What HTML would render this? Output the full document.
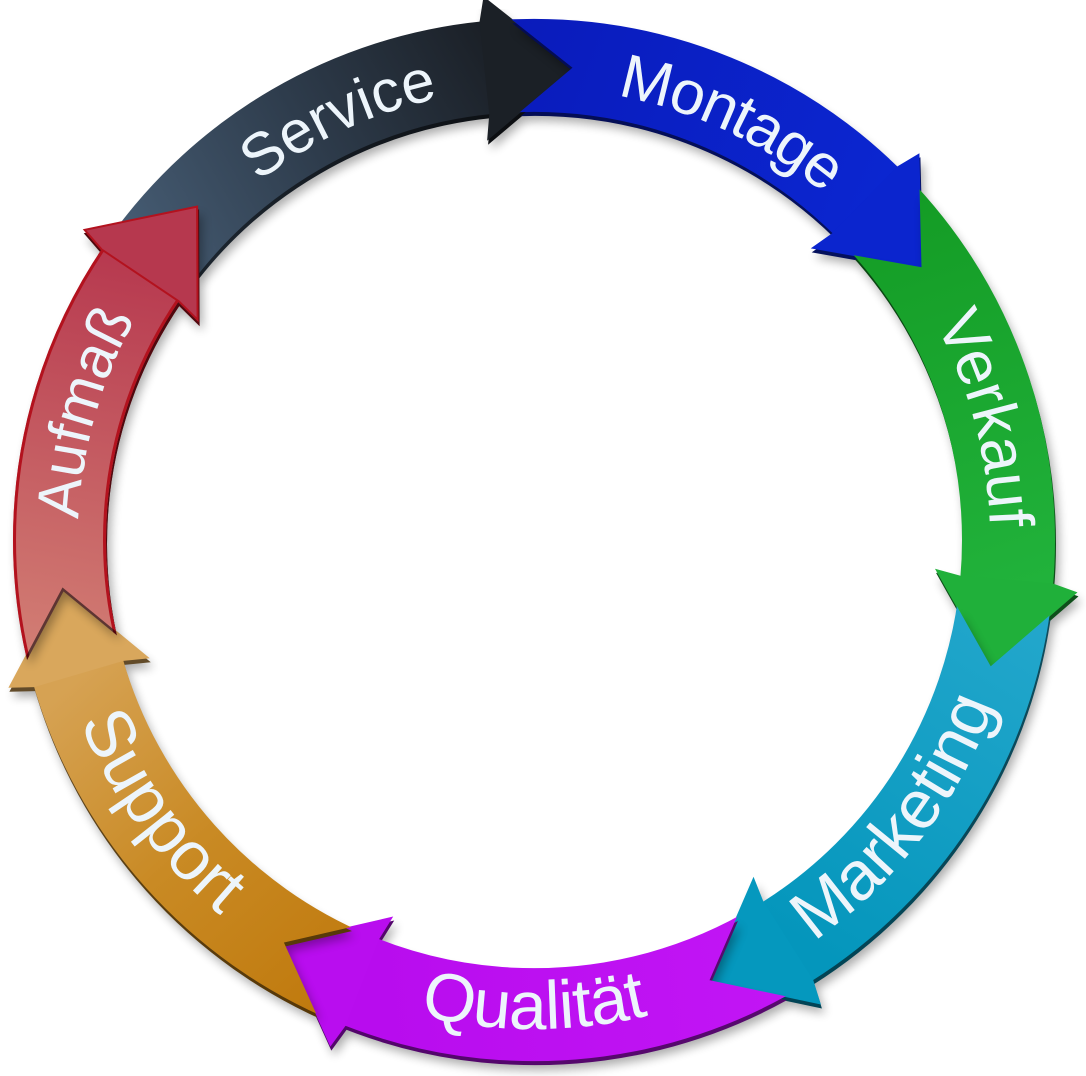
<!DOCTYPE html>
<html>
<head>
<meta charset="utf-8">
<style>
html,body{margin:0;padding:0;background:#ffffff;width:1086px;height:1076px;overflow:hidden;}
#wrap{position:absolute;left:0;top:0;width:1086px;height:1076px;overflow:hidden;}
svg{display:block;position:absolute;left:0;top:0;overflow:hidden;}
text{font-family:"Liberation Sans",Arial,sans-serif;fill:#edf5fb;}
</style>
</head>
<body>
<div id="wrap">
<svg width="1086" height="1076" viewBox="0 0 1086 1076" xmlns="http://www.w3.org/2000/svg">
<defs>
  <!-- arrowheads in absolute coordinates -->
  <path id="hSer" d="M479.54,21.85 L483.57,-3.67 L573.66,67.66 L487.10,140.75 L489.26,114.34 Z"/>
  <path id="hMon" d="M897.22,166.49 L919.41,153.25 L922.28,268.12 L810.72,248.40 L832.39,233.16 Z"/>
  <path id="hVer" d="M1053.17,583.60 L1077.49,592.33 L990.54,667.47 L934.97,568.74 L960.50,575.81 Z"/>
  <path id="hMar" d="M813.17,979.89 L820.91,1004.54 L708.49,980.71 L753.53,876.76 L763.33,901.37 Z"/>
  <path id="hQua" d="M345.59,1025.74 L330.33,1046.59 L282.82,941.97 L393.22,916.54 L379.22,939.03 Z"/>
  <path id="hSup" d="M34.20,687.10 L8.37,687.75 L62.26,586.25 L149.77,658.20 L123.41,660.84 Z"/>
  <path id="hAuf" d="M101.61,249.41 L84.62,229.88 L197.08,206.59 L197.62,319.88 L178.80,301.29 Z"/>

  <path id="cw452" d="M0,452 A452,452 0 1 1 0,-452 A452,452 0 1 1 0,452"/>
  <path id="cw456" d="M0,456 A456,456 0 1 1 0,-456 A456,456 0 1 1 0,456"/>
  <path id="ccw489" d="M0,-489 A489,489 0 1 0 0,489 A489,489 0 1 0 0,-489"/>

  <filter id="f3d" filterUnits="userSpaceOnUse" x="0" y="0" width="1086" height="1076" color-interpolation-filters="sRGB">
    <feColorMatrix in="SourceGraphic" type="matrix" values="0.45 0 0 0 0  0 0.45 0 0 0  0 0 0.45 0 0  0 0 0 1 0" result="dk"/>
    <feOffset in="dk" dx="1" dy="4" result="ext"/>
    <feGaussianBlur in="SourceAlpha" stdDeviation="5" result="b"/>
    <feOffset in="b" dx="4" dy="9" result="bo"/>
    <feComponentTransfer in="bo" result="sh"><feFuncA type="linear" slope="0.33"/></feComponentTransfer>
    <feMerge><feMergeNode in="sh"/><feMergeNode in="ext"/><feMergeNode in="SourceGraphic"/></feMerge>
  </filter>

  <linearGradient id="gSer" gradientUnits="userSpaceOnUse" x1="474" y1="0" x2="300" y2="368" gradientTransform="translate(534 540) rotate(215.4)">
    <stop offset="0" stop-color="#455b72"/><stop offset="0.5" stop-color="#2e3c4c"/><stop offset="1" stop-color="#1b2027"/>
  </linearGradient>
  <linearGradient id="gMon" gradientUnits="userSpaceOnUse" x1="474" y1="0" x2="300" y2="368" gradientTransform="translate(534 540) rotate(-94.5)">
    <stop offset="0" stop-color="#0a1bbb"/><stop offset="1" stop-color="#0b26d0"/>
  </linearGradient>
  <linearGradient id="gVer" gradientUnits="userSpaceOnUse" x1="474" y1="0" x2="300" y2="368" gradientTransform="translate(534 540) rotate(-44.3)">
    <stop offset="0" stop-color="#149c25"/><stop offset="1" stop-color="#21b23b"/>
  </linearGradient>
  <linearGradient id="gMar" gradientUnits="userSpaceOnUse" x1="474" y1="0" x2="300" y2="368" gradientTransform="translate(534 540) rotate(6.3)">
    <stop offset="0" stop-color="#23a7cc"/><stop offset="1" stop-color="#0496bc"/>
  </linearGradient>
  <linearGradient id="gQua" gradientUnits="userSpaceOnUse" x1="474" y1="0" x2="300" y2="368" gradientTransform="translate(534 540) rotate(59.1)">
    <stop offset="0" stop-color="#c215f5"/><stop offset="1" stop-color="#b80cee"/>
  </linearGradient>
  <linearGradient id="gSup" gradientUnits="userSpaceOnUse" x1="474" y1="0" x2="300" y2="368" gradientTransform="translate(534 540) rotate(112.7)">
    <stop offset="0" stop-color="#c07a0e"/><stop offset="0.5" stop-color="#c98a24"/><stop offset="1" stop-color="#d6a253"/>
  </linearGradient>
  <linearGradient id="gAuf" gradientUnits="userSpaceOnUse" x1="474" y1="0" x2="300" y2="368" gradientTransform="translate(534 540) rotate(165.1)">
    <stop offset="0" stop-color="#d27e74"/><stop offset="1" stop-color="#b7394f"/>
  </linearGradient>

  <mask id="mSer" maskUnits="userSpaceOnUse" x="0" y="0" width="1086" height="1076">
    <rect width="1086" height="1076" fill="#fff"/>
    <use href="#hAuf" fill="#000" stroke="#fff" stroke-width="1.5"/>
  </mask>
  <mask id="mMon" maskUnits="userSpaceOnUse" x="0" y="0" width="1086" height="1076">
    <rect width="1086" height="1076" fill="#fff"/>
    <use href="#hSer" fill="#000" stroke="#fff" stroke-width="1.5"/>
  </mask>
  <mask id="mVer" maskUnits="userSpaceOnUse" x="0" y="0" width="1086" height="1076">
    <rect width="1086" height="1076" fill="#fff"/>
    <use href="#hMon" fill="#000" stroke="#fff" stroke-width="1.5"/>
  </mask>
  <mask id="mMar" maskUnits="userSpaceOnUse" x="0" y="0" width="1086" height="1076">
    <rect width="1086" height="1076" fill="#fff"/>
    <use href="#hVer" fill="#000" stroke="#fff" stroke-width="1.5"/>
  </mask>
  <mask id="mQua" maskUnits="userSpaceOnUse" x="0" y="0" width="1086" height="1076">
    <rect width="1086" height="1076" fill="#fff"/>
    <use href="#hMar" fill="#000" stroke="#fff" stroke-width="1.5"/>
  </mask>
  <mask id="mSup" maskUnits="userSpaceOnUse" x="0" y="0" width="1086" height="1076">
    <rect width="1086" height="1076" fill="#fff"/>
    <use href="#hQua" fill="#000" stroke="#fff" stroke-width="1.5"/>
  </mask>
  <mask id="mAuf" maskUnits="userSpaceOnUse" x="0" y="0" width="1086" height="1076">
    <rect width="1086" height="1076" fill="#fff"/>
    <use href="#hSup" fill="#000" stroke="#fff" stroke-width="1.5"/>
  </mask>
</defs>

<!-- Service -->
<g filter="url(#f3d)">
  <g mask="url(#mSer)">
    <path d="M1008.5,540 A474.5,474.5 0 1 1 59.5,540 A474.5,474.5 0 1 1 1008.5,540" pathLength="360" fill="none" stroke="url(#gSer)" stroke-width="93" stroke-dasharray="0 215.4 48.9 1000"/>
  </g>
  <use href="#hSer" fill="#1b2026"/>
</g>

<!-- Montage -->
<g filter="url(#f3d)">
  <g mask="url(#mMon)">
    <path d="M1008.5,540 A474.5,474.5 0 1 1 59.5,540 A474.5,474.5 0 1 1 1008.5,540" pathLength="360" fill="none" stroke="url(#gMon)" stroke-width="93" stroke-dasharray="0 265.5 49 1000"/>
  </g>
  <use href="#hMon" fill="#0b25ce"/>
</g>

<!-- Verkauf -->
<g filter="url(#f3d)">
  <g mask="url(#mVer)">
    <path d="M59.5,540 A474.5,474.5 0 1 1 1008.5,540 A474.5,474.5 0 1 1 59.5,540" pathLength="360" fill="none" stroke="url(#gVer)" stroke-width="93" stroke-dasharray="0 135.7 49.4 1000"/>
  </g>
  <use href="#hVer" fill="#20b03a"/>
</g>

<!-- Marketing -->
<g filter="url(#f3d)">
  <g mask="url(#mMar)">
    <path d="M1008.5,540 A474.5,474.5 0 1 1 59.5,540 A474.5,474.5 0 1 1 1008.5,540" pathLength="360" fill="none" stroke="url(#gMar)" stroke-width="93" stroke-dasharray="0 6.3 51.6 1000"/>
  </g>
  <use href="#hMar" fill="#0598be"/>
</g>

<!-- Qualität -->
<g filter="url(#f3d)">
  <g mask="url(#mQua)">
    <path d="M1008.5,540 A474.5,474.5 0 1 1 59.5,540 A474.5,474.5 0 1 1 1008.5,540" pathLength="360" fill="none" stroke="url(#gQua)" stroke-width="93" stroke-dasharray="0 59.1 52.4 1000"/>
  </g>
  <use href="#hQua" fill="#b90def"/>
</g>

<!-- Support -->
<g filter="url(#f3d)">
  <g mask="url(#mSup)">
    <path d="M1008.5,540 A474.5,474.5 0 1 1 59.5,540 A474.5,474.5 0 1 1 1008.5,540" pathLength="360" fill="none" stroke="url(#gSup)" stroke-width="93" stroke-dasharray="0 112.7 51.2 1000"/>
  </g>
  <use href="#hSup" fill="#d9a75c"/>
</g>

<!-- Aufmaß -->
<g filter="url(#f3d)">
  <g mask="url(#mAuf)">
    <path d="M1008.5,540 A474.5,474.5 0 1 1 59.5,540 A474.5,474.5 0 1 1 1008.5,540" pathLength="360" fill="none" stroke="url(#gAuf)" stroke-width="93" stroke-dasharray="0 165.1 49.1 1000"/>
    <path d="M963.5,540 A429.5,429.5 0 1 1 104.5,540 A429.5,429.5 0 1 1 963.5,540" pathLength="360" fill="none" stroke="#b3121e" stroke-width="3" stroke-dasharray="0 165.1 49.1 1000"/>
    <path d="M1053.5,540 A519.5,519.5 0 1 1 14.5,540 A519.5,519.5 0 1 1 1053.5,540" pathLength="360" fill="none" stroke="#b3121e" stroke-width="3" stroke-dasharray="0 165.1 49.1 1000"/>
  </g>
  <use href="#hAuf" fill="#b6384e" stroke="#b3121e" stroke-width="2"/>
</g>

<!-- Labels -->
<text transform="translate(534 540) rotate(-24.9)" font-size="60" text-anchor="middle"><textPath href="#cw452" startOffset="50%">Service</textPath></text>
<text transform="translate(534 540) rotate(25.2)" font-size="62" letter-spacing="-1.5" text-anchor="middle"><textPath href="#cw452" startOffset="50%">Montage</textPath></text>
<text transform="translate(534 540) rotate(75)" font-size="63" text-anchor="middle"><textPath href="#cw456" startOffset="50%">Verkauf</textPath></text>
<text transform="translate(534 540) rotate(-74.2)" font-size="60" text-anchor="middle"><textPath href="#cw456" startOffset="50%">Aufmaß</textPath></text>
<text transform="translate(534 540) rotate(-52.6)" font-size="69" text-anchor="middle"><textPath href="#ccw489" startOffset="50%">Marketing</textPath></text>
<text transform="translate(534 540)" font-size="68" letter-spacing="-0.5" text-anchor="middle"><textPath href="#ccw489" startOffset="50%">Qualität</textPath></text>
<text transform="translate(534 540) rotate(54)" font-size="69" text-anchor="middle"><textPath href="#ccw489" startOffset="50%">Support</textPath></text>
</svg>
</div>
</body>
</html>
